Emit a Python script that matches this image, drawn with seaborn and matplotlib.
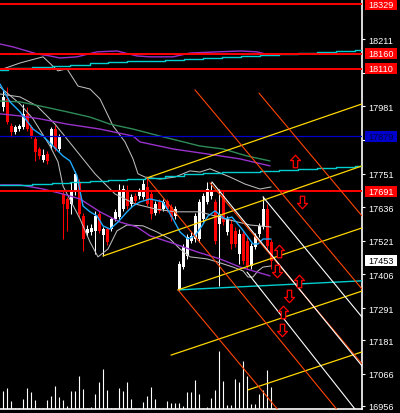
import numpy as np
import seaborn as sns
import matplotlib
matplotlib.use("Agg")
import matplotlib.pyplot as plt
from matplotlib.path import Path
from matplotlib.patches import Rectangle

# ---- bars (left to right) ----
opens = [17979, 18006, 17914, 17893, 17903, 17910, 17955, 17910, 17869, 17835,
         17797, 17818, 17845, 17903, 17835, 17681, 17664, 17647, 17688, 17722,
         17606, 17548, 17551, 17555, 17613, 17541, 17561, 17561, 17596, 17602,
         17630, 17691, 17647, 17674, 17674, 17671, 17705, 17681, 17616, 17654,
         17630, 17657, 17637, 17606, 17356, 17431, 17469, 17520, 17527, 17527,
         17596, 17654, 17674, 17654, 17579, 17674, 17551, 17579, 17555, 17476,
         17544, 17520, 17435, 17500, 17544, 17568, 17630, 17517]
highs = [18040, 18047, 17924, 17917, 17920, 17989, 17979, 17917, 17879, 17842,
         17835, 17828, 17910, 17917, 17886, 17691, 17671, 17722, 17760, 17732,
         17616, 17575, 17579, 17623, 17623, 17568, 17568, 17602, 17630, 17715,
         17712, 17712, 17681, 17685, 17702, 17732, 17736, 17691, 17657, 17664,
         17664, 17664, 17647, 17640, 17452, 17510, 17544, 17551, 17616, 17664,
         17685, 17722, 17722, 17664, 17698, 17691, 17606, 17596, 17568, 17561,
         17555, 17534, 17514, 17548, 17582, 17674, 17647, 17527]
lows = [17965, 17920, 17876, 17886, 17897, 17903, 17897, 17873, 17794, 17801,
        17791, 17784, 17835, 17828, 17828, 17527, 17555, 17613, 17678, 17602,
        17486, 17538, 17541, 17476, 17548, 17469, 17507, 17555, 17589, 17596,
        17623, 17630, 17637, 17647, 17664, 17664, 17640, 17596, 17609, 17616,
        17623, 17620, 17589, 17596, 17353, 17425, 17459, 17514, 17517, 17517,
        17585, 17647, 17664, 17510, 17366, 17575, 17541, 17493, 17500, 17442,
        17442, 17425, 17425, 17493, 17534, 17561, 17493, 17425]
closes = [18013, 17927, 17893, 17910, 17914, 17955, 17903, 17879, 17825, 17811,
          17815, 17794, 17903, 17835, 17879, 17647, 17630, 17691, 17750, 17613,
          17527, 17561, 17565, 17606, 17555, 17561, 17517, 17596, 17620, 17688,
          17698, 17640, 17671, 17657, 17691, 17715, 17647, 17613, 17647, 17623,
          17654, 17630, 17602, 17630, 17442, 17500, 17534, 17538, 17606, 17654,
          17674, 17698, 17691, 17520, 17613, 17585, 17596, 17510, 17510, 17544,
          17452, 17435, 17503, 17538, 17572, 17630, 17503, 17453]
volumes = [183, 210, 83, 10, 10, 100, 210, 170, 90, 10, 10, 90, 130, 230, 120, 90, 30,
           183, 183, 330, 200, 10, 20, 150, 273, 400, 190, 10, 10, 210, 183, 273, 100,
           10, 10, 70, 130, 220, 100, 10, 10, 80, 60, 60, 60, 30, 170, 170, 290, 150,
           10, 20, 110, 190, 580, 280, 40, 40, 300, 270, 480, 330, 50, 50, 150, 190, 390, 220]

# ---- indicators (bar index, price) ----
fast_x = [-0.75, 1.75, 4.25, 7.5, 10, 12.5, 15, 16.75, 18.5, 20, 21.75, 23.5, 25, 26.75,
          28.75, 31, 32.5, 34.25, 36.75, 40, 42.5, 44.25, 46.25, 48, 49.75, 51.25, 53,
          55.5, 57.25, 59.75, 62.5, 63.75, 65, 67]
fast_p = [18057, 17996, 17962, 17903, 17879, 17845, 17811, 17794, 17743, 17640, 17620,
          17606, 17572, 17561, 17585, 17620, 17640, 17654, 17664, 17654, 17596, 17551,
          17527, 17538, 17572, 17606, 17623, 17596, 17602, 17561, 17510, 17510, 17527, 17527]

bb_up_x = [-0.75, 4.25, 10, 13.75, 16, 18.75, 21.75, 24.25, 27.5, 30.5, 32.5, 33.75,
           35.5, 39.25, 43, 46.75, 49.25, 51.75, 56.75, 60.5, 64.25, 67]
bb_up_p = [18105, 18129, 18150, 18102, 18109, 18050, 18040, 18006, 17914, 17859, 17801,
           17750, 17739, 17732, 17739, 17760, 17756, 17767, 17739, 17715, 17698, 17705]
bb_mid_x = [-0.75, 4.25, 8.5, 13, 18, 23, 28, 33, 38, 43, 49.25, 55.5, 61.75, 67]
bb_mid_p = [18023, 18013, 17982, 17920, 17835, 17750, 17681, 17647, 17630, 17620, 17620,
            17596, 17575, 17568]
bb_lo_x = [-0.75, 4.25, 7.5, 11.75, 13.75, 15, 19.25, 21.75, 23.75, 26.25, 28.5, 31, 35,
           38.5, 41.75, 44.25, 46.75, 51, 53.5, 57.5, 60, 61.25, 62.5, 63.75, 65, 67]
bb_lo_p = [18047, 17989, 17938, 17845, 17791, 17708, 17596, 17517, 17466, 17493, 17555,
           17575, 17572, 17551, 17527, 17493, 17466, 17459, 17449, 17431, 17418, 17397,
           17397, 17418, 17431, 17435]

green_x = [-0.75, 4.25, 9.25, 16, 21.75, 26.75, 32.5, 39.25, 44.25, 49.25, 55, 61, 66.75]
green_p = [17999, 17996, 17982, 17962, 17944, 17920, 17903, 17879, 17862, 17845, 17835,
           17811, 17794]
violet_x = [-0.75, 4.25, 9.25, 16, 24.25, 32.5, 34.25, 42.5, 51, 59.25, 66.75]
violet_p = [17955, 17948, 17938, 17920, 17903, 17879, 17859, 17835, 17818, 17801, 17777]
violet_lo_x = [-0.75, 4.25, 10, 15, 19.25, 24.25, 29.25, 33.5, 36.75, 43, 48.5, 54.25,
               59.25, 66.75]
violet_lo_p = [17712, 17712, 17698, 17681, 17664, 17620, 17585, 17568, 17538, 17510,
               17483, 17459, 17431, 17401]
violet_hi_x = [-0.75, 2.5, 6, 8.5, 11.75, 14.25, 18.5, 23.5, 28.5, 33.5, 36.75, 42.5,
               46.75, 53.5, 59.5, 63.5, 66.75]
violet_hi_p = [18194, 18184, 18170, 18160, 18153, 18146, 18150, 18167, 18170, 18153,
               18150, 18150, 18163, 18167, 18170, 18167, 18156]

step_x = [-0.75, 1.25, 7.25, 12.25, 16.75, 21.75, 26.25, 31, 35.5, 40.5, 45.25, 50,
          54.75, 59.5, 64.25, 69, 73.75, 78.5, 83.25, 88, 89.75]
cyan_hi_p = [18105, 18112, 18115, 18119, 18122, 18129, 18133, 18136, 18136, 18139, 18143,
             18145, 18150, 18153, 18156, 18160, 18163, 18167, 18170, 18174, 18174]
cyan_lo_p = [17712, 17712, 17715, 17719, 17722, 17726, 17729, 17732, 17736, 17743, 17750,
             17753, 17756, 17756, 17760, 17763, 17767, 17770, 17773, 17777, 17777]

# ---- drawn objects ----
hlines_red = [18329, 18160, 18110, 17691]
hline_blue = 17879
last_price = 17453

yellow_x0 = [25, 36, 43.75, 42, 61.25]
yellow_p0 = [17469, 17736, 17353, 17130, 17011]
yellow_x1 = [89.75, 89.75, 89.75, 89.75, 89.75]
yellow_p1 = [17777, 17989, 17565, 17349, 17141]

orange_x0 = [48, 64, 36, 43.75, 51.75]
orange_p0 = [18037, 18026, 17736, 17353, 17719]
orange_x1 = [89.75, 89.75, 87.5, 72.75, 89.75]
orange_p1 = [17356, 17606, 16877, 16877, 17100]

white_x0 = [52.25, 65, 61]
white_p0 = [17722, 17671, 17414]
white_x1 = [89.75, 89.75, 89.75]
white_p1 = [17093, 17260, 16915]

cyan_tl_x = [43.75, 89.75]
cyan_tl_p = [17353, 17384]

arrow_x = [74.75, 69, 68.5, 74, 71.5, 70, 69.75, 73]
arrow_p = [17654, 17486, 17418, 17384, 17332, 17277, 17216, 17794]
arrow_dir = ["down", "up", "down", "up", "down", "up", "down", "up"]

tick_vals = [18211, 18096, 17981, 17866, 17751, 17636, 17521, 17406, 17291, 17181,
             17066, 16956]

# ---- style ----
sns.set_theme(style="dark", rc={"axes.facecolor": "black", "figure.facecolor": "black",
                                "axes.edgecolor": "white"})
plt.rcParams["font.family"] = ["Liberation Sans", "DejaVu Sans"]

fig = plt.figure(figsize=(4.0, 4.14), dpi=100)
ax = fig.add_axes([0, 4 / 414, 362 / 400, 410 / 414])
ax.set_facecolor("black")
ax.set_xlim(-0.75, 89.75)
ax.set_ylim(16945.7, 18347.8)

idx = np.arange(len(opens))
o = np.array(opens)
c = np.array(closes)
cols = np.where(c >= o, "white", "red")

# volume at the bottom
vol_frac = np.array(volumes) / 4100
ax.vlines(idx, 0, vol_frac, transform=ax.get_xaxis_transform(), colors="white", lw=0.8, zorder=2)

# candles
ax.vlines(idx, lows, highs, colors=cols, lw=0.75, zorder=3)
body = np.maximum(np.abs(c - o), 3.5)
ax.bar(idx, body, bottom=np.minimum(o, c), width=0.75, color=cols, lw=0, zorder=3)

# indicators
def curve(xs, ps, color, lw=0.75):
    sns.lineplot(x=xs, y=ps, ax=ax, color=color, lw=lw, sort=False, estimator=None, zorder=4)

curve(bb_up_x, bb_up_p, "#bdbdbd")
curve(bb_mid_x, bb_mid_p, "#bdbdbd")
curve(bb_lo_x, bb_lo_p, "#bdbdbd")
curve(green_x, green_p, "#2e8b57", 1.0)
curve(violet_x, violet_p, "#9932cc", 1.0)
curve(violet_lo_x, violet_lo_p, "#9932cc", 1.0)
curve(violet_hi_x, violet_hi_p, "#9932cc", 1.0)
curve(fast_x, fast_p, "#1eaaff", 1.0)
ax.step(step_x, cyan_hi_p, where="post", color="#00ced1", lw=1.0, zorder=4)
ax.step(step_x, cyan_lo_p, where="post", color="#00ced1", lw=1.0, zorder=4)
ax.plot(cyan_tl_x, cyan_tl_p, color="#00ced1", lw=1.0, zorder=4)

# horizontal levels
for lvl in hlines_red:
    ax.axhline(lvl, color="red", lw=1.4, zorder=5)
ax.axhline(hline_blue, color="#0000cd", lw=0.9, zorder=5)

# channels
for x0, p0, x1, p1 in zip(yellow_x0, yellow_p0, yellow_x1, yellow_p1):
    ax.plot([x0, x1], [p0, p1], color="#ffd700", lw=0.9, zorder=5)
for x0, p0, x1, p1 in zip(orange_x0, orange_p0, orange_x1, orange_p1):
    ax.plot([x0, x1], [p0, p1], color="#ff4500", lw=0.8, zorder=5)
for x0, p0, x1, p1 in zip(white_x0, white_p0, white_x1, white_p1):
    ax.plot([x0, x1], [p0, p1], color="white", lw=0.8, zorder=5)

# signal arrows
up_path = Path([(0, 1), (0.8, 0.15), (0.35, 0.15), (0.35, -1), (-0.35, -1),
                (-0.35, 0.15), (-0.8, 0.15), (0, 1)],
               [Path.MOVETO] + [Path.LINETO] * 6 + [Path.CLOSEPOLY])
down_path = Path(up_path.vertices * [1, -1], up_path.codes)
for xa, pa, d in zip(arrow_x, arrow_p, arrow_dir):
    ax.plot([xa], [pa], marker=up_path if d == "up" else down_path, ms=9,
            mfc="black", mec="red", mew=0.9, ls="none", zorder=6)

# price tags that cover the scale
tags = [(lvl, "red", "white") for lvl in hlines_red]
tags += [(hline_blue, "#0000cd", "#000040"), (last_price, "white", "black")]

ppx = (ax.get_ylim()[1] - ax.get_ylim()[0]) / 410
covered = [v for v in tick_vals if any(abs(v - t[0]) < 7 * ppx for t in tags)]

# axes and price scale
ax.set_xticks([])
ax.yaxis.tick_right()
ax.set_yticks(tick_vals)
ax.set_yticklabels(["" if v in covered else str(v) for v in tick_vals])
ax.tick_params(axis="y", colors="white", length=2.5, width=0.8, pad=2.2, labelsize=6.6)
for side in ["top", "left"]:
    ax.spines[side].set_visible(False)
for side in ["right", "bottom"]:
    ax.spines[side].set_color("white")
    ax.spines[side].set_linewidth(1.2)
ax.grid(False)

for price, bg, fg in tags:
    ax.add_patch(Rectangle((1.008, price - 5.5 * ppx), 0.0884, 11 * ppx,
                           transform=ax.get_yaxis_transform(), facecolor=bg,
                           edgecolor="none", clip_on=False, zorder=10))
    ax.text(1.0175, price, str(price), transform=ax.get_yaxis_transform(), color=fg,
            fontsize=6.6, va="center", ha="left", clip_on=False, zorder=11)

fig.savefig("out.png", dpi=100, facecolor="black")
